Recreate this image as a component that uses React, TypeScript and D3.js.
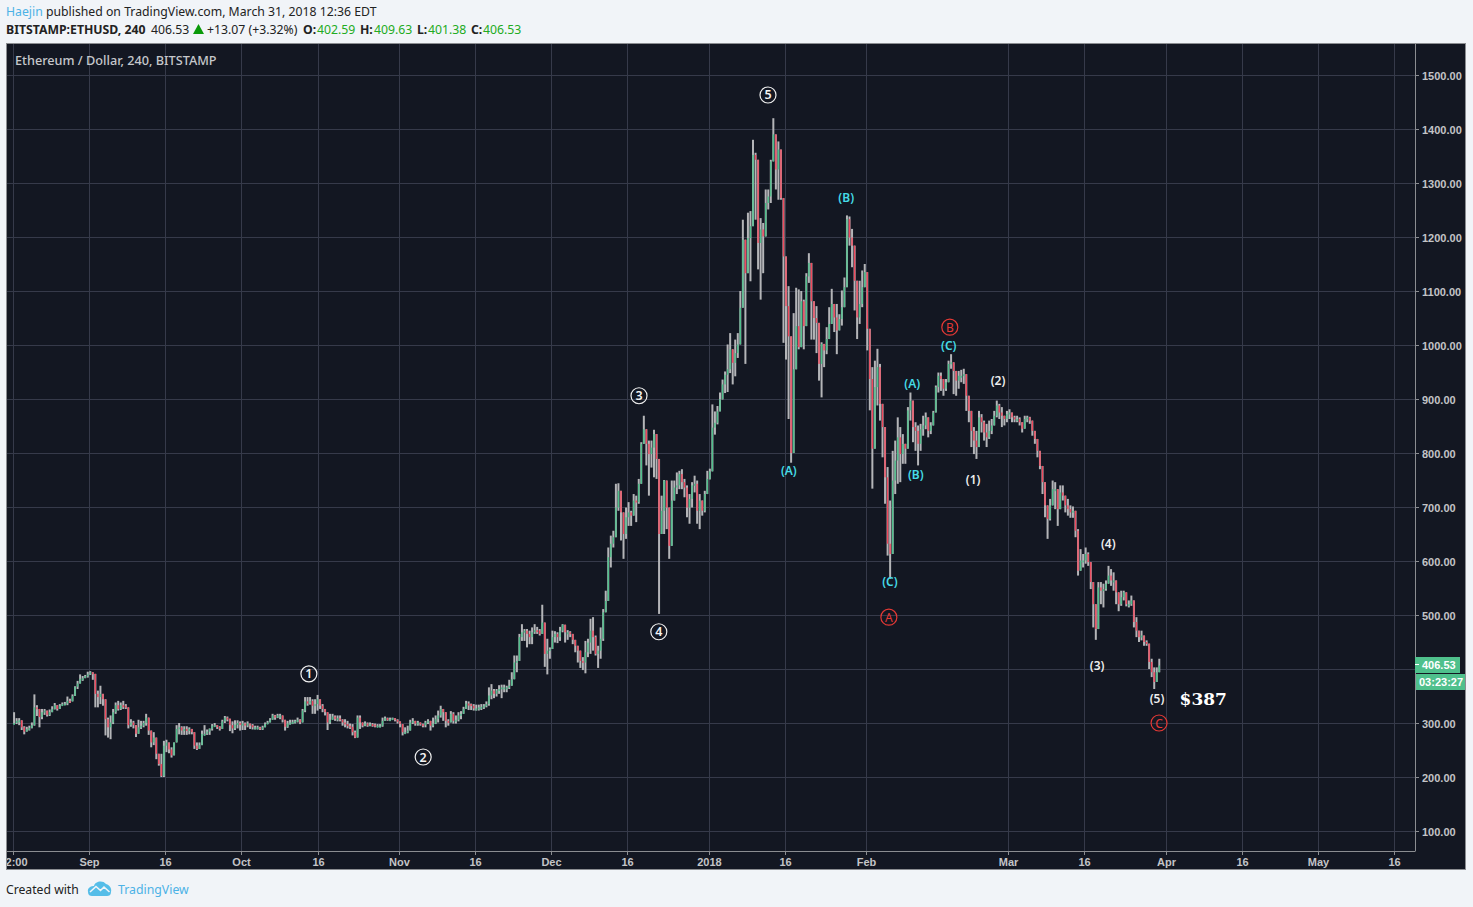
import React from "react";
import * as d3 from "d3";

// ---- 12-hour style price readings, one set of arrays per calendar month ----
const augClose = [300,304,305,292,284,289,291,296,329,326,311,320,323,315,320,326,333,326,332,335,336,341,340,350,367,373,382,383,387,390];
const augHigh = [320,309,309,300,294,293,295,301,353,333,323,326,326,320,325,331,337,333,335,338,339,349,345,353,368,378,390,387,389,395];
const augLow = [298,298,296,287,279,285,286,290,295,313,292,307,315,312,313,321,325,323,327,332,333,333,337,344,350,363,375,378,383,384];

const sepClose = [394,391,354,348,354,344,307,292,301,320,333,326,333,332,329,296,301,296,280,292,295,300,310,286,264,273,243,224,202,258,264,251,240,264,289,292,286,289,286,289,283,258,252,259,280,280,284,289,295,296,293,289,303,310,308,296,290,297,300,298];
const sepHigh = [396,394,366,360,369,352,320,310,314,326,338,341,338,341,335,315,307,304,292,306,304,304,317,301,280,283,267,243,243,267,269,258,255,264,296,300,294,294,294,292,289,273,264,264,286,296,288,290,298,300,296,294,306,313,312,308,303,305,305,303];
const sepLow = [389,380,329,329,335,332,277,273,270,298,317,323,324,326,326,290,293,290,274,284,289,292,295,278,255,259,233,221,200,200,246,244,236,252,279,279,278,278,278,279,279,252,250,253,268,277,278,278,286,293,289,286,295,300,303,285,281,287,290,286];

const octClose = [299,298,299,296,292,292,292,290,292,298,301,306,314,310,314,314,306,293,299,301,302,304,306,301,323,340,336,341,332,335,344,332,326,320,301,306,312,307,309,306,301,298,295,293,283,273,310,301,295,299,297,298,297,295,295,295,304,309,307,307,309,306,303];
const octHigh = [304,301,303,299,298,295,295,293,295,301,304,309,317,315,317,317,310,303,304,306,306,306,310,307,326,348,348,348,344,344,352,344,335,326,317,317,317,314,314,314,307,307,304,299,298,286,314,314,301,303,301,301,300,299,298,298,310,312,310,310,310,309,307];
const octLow = [287,287,292,289,288,288,288,287,287,293,298,301,307,306,309,307,301,286,291,297,298,299,301,298,301,320,332,334,317,317,323,326,320,314,287,298,306,304,303,303,295,292,290,289,277,272,277,289,292,294,293,294,293,292,292,292,293,304,304,304,306,303,299];

const novClose = [298,283,283,286,301,304,299,301,298,296,301,304,295,299,307,314,326,320,304,301,317,304,306,314,317,326,336,335,332,327,327,329,330,332,335,351,360,354,360,363,366,366,366,369,381,412,415,459,468,471,465,459,468,472,471,465,486,428,434,437];
const novHigh = [303,295,292,295,306,309,304,304,301,299,304,307,304,310,314,323,332,326,317,307,322,320,314,320,322,330,341,340,336,335,334,334,335,335,340,366,372,363,363,370,371,371,369,380,394,425,425,465,483,474,474,471,477,483,478,474,519,483,456,440];
const novLow = [292,277,280,281,292,298,295,295,295,292,292,298,286,292,298,301,310,304,292,295,301,299,299,303,307,317,326,324,324,323,323,323,324,326,329,332,344,346,349,354,346,357,357,363,375,391,394,419,452,452,440,446,446,465,465,462,465,404,390,419];

const decClose = [459,465,459,471,482,468,468,465,454,443,434,415,412,431,449,471,459,428,434,456,505,526,607,632,644,699,730,690,650,681,690,684,712,709,743,817,844,817,798,810,835,789,650,693,749,699,628,712,736,740,761,746,736,699,715,740,743,693,712,693,724,752];
const decHigh = [471,470,468,478,483,474,472,470,462,452,440,428,422,452,456,493,496,462,443,477,511,545,625,647,656,743,744,712,675,699,709,693,724,721,752,820,869,835,823,823,843,792,736,721,750,733,687,749,749,764,767,770,752,740,724,746,758,749,724,712,730,767];
const decLow = [437,449,448,452,468,449,454,459,446,431,412,402,398,392,422,428,434,425,402,419,452,505,585,588,625,650,693,638,604,641,665,665,696,672,706,749,817,777,721,773,755,752,502,653,650,659,604,628,712,724,733,733,718,681,669,699,727,669,659,684,690,730];

const janClose = [766,847,856,877,900,927,945,955,992,967,985,1001,1069,1195,1133,1198,1220,1352,1343,1189,1214,1201,1263,1275,1340,1390,1325,1362,1272,1164,1072,1016,800,955,1035,996,1081,1035,1127,1152,1081,1050,1041,965,1002,990,1011,1039,1076,1051,1027,1048,1070,1107,1233,1199,1184,1119,1051,1076,1107,1135];
const janHigh = [771,890,877,887,912,936,951,1001,1022,982,1010,1022,1100,1232,1170,1245,1248,1380,1356,1334,1235,1226,1288,1288,1343,1420,1349,1377,1322,1245,1164,1109,1016,1059,1106,1103,1100,1084,1133,1170,1127,1078,1072,1008,1005,1002,1033,1070,1104,1076,1076,1057,1101,1125,1240,1238,1215,1172,1107,1119,1138,1150];
const janLow = [751,813,834,853,880,899,911,913,948,927,942,976,1004,1103,965,1140,1118,1220,1232,1140,1084,1133,1220,1251,1263,1356,1288,1269,1269,1004,973,863,782,911,955,992,1022,992,1072,1115,1010,1010,985,934,903,959,983,1014,1039,1024,983,1027,1036,1082,1132,1184,1144,1064,1011,1039,1070,1110];

const febClose = [1030,937,808,922,959,891,848,755,632,613,749,786,829,798,817,808,879,897,848,841,817,844,851,866,841,851,875,922,943,937,919,931,965,968,952,934,943,943,946,906,878,841,823,811,866,857,838,829,841,851,869,888,875,869,863,872];
const febHigh = [1132,1020,959,971,993,965,885,835,774,712,804,823,866,848,835,817,885,912,885,857,851,854,869,875,860,857,878,925,949,949,934,937,971,983,956,946,952,954,956,928,903,848,848,841,878,872,860,854,860,863,878,897,891,885,869,878];
const febLow = [990,879,734,842,888,860,792,706,610,567,613,724,743,746,780,780,835,860,820,804,777,804,832,844,829,835,857,897,912,915,906,915,946,956,909,906,919,931,928,878,857,811,798,789,811,838,823,811,826,835,851,866,863,848,851,857];

const marClose = [875,866,863,863,857,845,863,866,860,841,826,804,776,746,703,678,703,733,733,696,727,721,703,696,690,693,656,582,601,601,613,598,561,520,474,551,545,548,558,573,564,564,542,520,533,542,520,520,527,487,471,459,462,450,447,413,394,376,394,406.53];
const marHigh = [881,872,869,869,866,857,869,869,867,857,841,826,798,767,715,703,715,749,746,733,740,740,712,715,703,701,693,659,622,613,625,616,598,558,520,561,561,558,564,591,585,579,551,533,545,545,542,527,536,524,496,471,471,462,453,447,419,403,403,419];
const marLow = [863,857,857,857,851,838,851,857,854,832,817,792,770,724,681,641,675,706,696,665,699,712,690,684,680,680,644,573,585,588,595,591,548,477,454,514,520,514,545,558,554,545,520,507,517,527,516,514,517,477,459,450,453,443,443,400,385,363,379,397];

const monthSpans: [string, string, number[], number[], number[]][] = [
  ["2017-08-17T00:00Z", "2017-09-01T00:00Z", augClose, augHigh, augLow],
  ["2017-09-01T00:00Z", "2017-10-01T00:00Z", sepClose, sepHigh, sepLow],
  ["2017-10-01T00:00Z", "2017-11-01T00:00Z", octClose, octHigh, octLow],
  ["2017-11-01T00:00Z", "2017-12-01T00:00Z", novClose, novHigh, novLow],
  ["2017-12-01T00:00Z", "2018-01-01T00:00Z", decClose, decHigh, decLow],
  ["2018-01-01T00:00Z", "2018-02-01T00:00Z", janClose, janHigh, janLow],
  ["2018-02-01T00:00Z", "2018-03-01T00:00Z", febClose, febHigh, febLow],
  ["2018-03-01T00:00Z", "2018-03-31T00:00Z", marClose, marHigh, marLow],
];

const priceTicks = [100,200,300,400,500,600,700,800,900,1000,1100,1200,1300,1400,1500];
const timeTicks: [string, string][] = [
  ["2017-08-17T00:00Z","12:00"],["2017-09-01T00:00Z","Sep"],["2017-09-16T00:00Z","16"],["2017-10-01T00:00Z","Oct"],
  ["2017-10-16T00:00Z","16"],["2017-11-01T00:00Z","Nov"],["2017-11-16T00:00Z","16"],["2017-12-01T00:00Z","Dec"],
  ["2017-12-16T00:00Z","16"],["2018-01-01T00:00Z","2018"],["2018-01-16T00:00Z","16"],["2018-02-01T00:00Z","Feb"],
  ["2018-03-01T00:00Z","Mar"],["2018-03-16T00:00Z","16"],["2018-04-01T00:00Z","Apr"],
  ["2018-04-16T00:00Z","16"],["2018-05-01T00:00Z","May"],["2018-05-16T00:00Z","16"],
];

// wave annotations: text, days after 1 Sep 2017, price
const whiteCircled: [string, number, number][] = [["1",43.3,391],["2",65.8,237],["3",108.3,906],["4",112.2,469],["5",133.7,1463]];
const redCircled: [string, number, number][] = [["A",157.5,496],["B",169.5,1033],["C",210.7,300]];
const cyanLabels: [string, number, number][] = [["(A)",137.8,767],["(B)",149.1,1272],["(C)",157.7,561],["(A)",162.1,928],["(B)",162.8,759],["(C)",169.3,998]];
const whiteLabels: [string, number, number][] = [["(1)",174.1,750],["(2)",179,933],["(3)",198.5,406],["(4)",200.7,631],["(5)",210.3,344]];
const targetLabel: [string, number, number] = ["$387",219.4,344];
const lastPrice = 406.53;

const UP = "#4fc08c", DOWN = "#f04a5e", WICK = "#b4b5b8", GRID = "#363a4a", AXIS = "#8b8d91", TICKTXT = "#c3c4c7";

const x = d3.scaleUtc().domain([new Date("2017-09-01T00:00Z"), new Date("2018-05-01T00:00Z")]).range([89, 1318]);
const y = d3.scaleLinear().domain([100, 1500]).range([831, 75]);
const dayX = (d: number) => x(new Date(Date.UTC(2017, 8, 1) + d * 864e5));

type Candle = { t: Date; o: number; c: number; h: number; l: number };
const candles: Candle[] = [];
let prev = 300;
monthSpans.forEach(([s, e, cl, hi, lo]) => {
  const t0 = +new Date(s), t1 = +new Date(e);
  cl.forEach((c, i) => {
    const t = new Date(t0 + ((t1 - t0) * (i + 0.5)) / cl.length);
    candles.push({ t, o: prev, c, h: Math.max(hi[i], c, prev), l: Math.min(lo[i], c, prev) });
    prev = c;
  });
});

const SANS = "'Noto Sans', sans-serif";
const TICKF = "'Liberation Sans', Arial, sans-serif";

export default function App() {
  return (
    <svg width={1473} height={907} style={{ position: "absolute", left: 0, top: 0, background: "#f1f4f8" }}>
      <defs>
        <clipPath id="panel"><rect x={7} y={44} width={1458} height={825} /></clipPath>
        <clipPath id="plot"><rect x={7} y={44} width={1408} height={807} /></clipPath>
      </defs>

      {/* header */}
      <text x={6} y={16} fontFamily={SANS} fontSize={12.25} fill="#222">
        <tspan fill="#4cb2e6">Haejin</tspan> published on TradingView.com, March 31, 2018 12:36 EDT
      </text>
      <g fontFamily={SANS} fontSize={12.25}>
        <text x={6} y={34} fontWeight={700} fill="#222">BITSTAMP:ETHUSD, 240</text>
        <text x={151} y={34} fill="#222">406.53</text>
        <path d="M198.5 24 L204 34 L193 34 Z" fill="#0a9a0a" />
        <text x={207} y={34} fill="#222">+13.07 (+3.32%)</text>
        <text x={303} y={34} fontWeight={700} fill="#222">O:</text>
        <text x={317} y={34} fill="#22ab22">402.59</text>
        <text x={360} y={34} fontWeight={700} fill="#222">H:</text>
        <text x={374} y={34} fill="#22ab22">409.63</text>
        <text x={417} y={34} fontWeight={700} fill="#222">L:</text>
        <text x={428} y={34} fill="#22ab22">401.38</text>
        <text x={471} y={34} fontWeight={700} fill="#222">C:</text>
        <text x={483} y={34} fill="#22ab22">406.53</text>
      </g>

      {/* panel */}
      <rect x={6.5} y={43.5} width={1459} height={826} fill="#131722" stroke={AXIS} strokeWidth={1} />

      <g clipPath="url(#plot)">
        {priceTicks.map((p) => (
          <line key={p} x1={7} x2={1415} y1={Math.round(y(p)) + 0.5} y2={Math.round(y(p)) + 0.5} stroke={GRID} />
        ))}
        {timeTicks.map(([d]) => {
          const px = Math.round(x(new Date(d))) + 0.5;
          return <line key={d} x1={px} x2={px} y1={44} y2={851} stroke={GRID} />;
        })}
        {candles.map((k, i) => (
          <line key={"w" + i} x1={x(k.t)} x2={x(k.t)} y1={y(k.h)} y2={y(k.l)} stroke={WICK} strokeWidth={2} />
        ))}
        {candles.map((k, i) => {
          const top = y(Math.max(k.o, k.c));
          const h = Math.max(2, y(Math.min(k.o, k.c)) - top);
          return <rect key={"b" + i} x={x(k.t) - 0.7} y={top} width={1.4} height={h} fill={k.c >= k.o ? UP : DOWN} />;
        })}
      </g>

      <text x={15} y={65} fontFamily={SANS} fontSize={12.7} fontWeight={500} fill="#c6c8cc">Ethereum / Dollar, 240, BITSTAMP</text>

      {/* axes */}
      <line x1={1415.5} x2={1415.5} y1={44} y2={851} stroke={AXIS} />
      <line x1={7} x2={1415.5} y1={851.5} y2={851.5} stroke={AXIS} />
      <g fontFamily={TICKF} fontSize={11} fontWeight={700} fill={TICKTXT}>
        {priceTicks.map((p) => (
          <g key={p}>
            <line x1={1415} x2={1419} y1={Math.round(y(p)) + 0.5} y2={Math.round(y(p)) + 0.5} stroke={AXIS} />
            {Math.abs(p - lastPrice) > 20 && <text x={1422} y={y(p) + 4.5}>{p.toFixed(2)}</text>}
          </g>
        ))}
      </g>
      <g clipPath="url(#panel)" fontFamily={TICKF} fontSize={11} fontWeight={700} fill={TICKTXT} textAnchor="middle">
        {timeTicks.map(([d, lab]) => {
          const px = Math.round(x(new Date(d))) + 0.5;
          return (
            <g key={d}>
              <line x1={px} x2={px} y1={851} y2={855} stroke={AXIS} />
              <text x={px} y={866}>{lab}</text>
            </g>
          );
        })}
      </g>

      {/* last price */}
      <rect x={1415} y={657} width={45} height={16} fill={UP} />
      <line x1={1415} x2={1419} y1={664.5} y2={664.5} stroke="#fff" />
      <text x={1422} y={669} fontFamily={TICKF} fontSize={11} fontWeight={700} fill="#fff">{lastPrice.toFixed(2)}</text>
      <rect x={1416} y={674} width={49} height={16} fill={UP} />
      <text x={1419} y={686} fontFamily={TICKF} fontSize={11} fontWeight={700} fill="#fff">03:23:27</text>

      {/* wave labels */}
      <g fontFamily={SANS} textAnchor="middle">
        {whiteCircled.map(([t, d, p]) => (
          <g key={t}>
            <circle cx={dayX(d)} cy={y(p)} r={8} fill="none" stroke="#f0f0f0" strokeWidth={1.2} />
            <text x={dayX(d)} y={y(p) + 4.5} fontSize={12.5} fontWeight={600} fill="#f2f2f2">{t}</text>
          </g>
        ))}
        {redCircled.map(([t, d, p]) => (
          <g key={t}>
            <circle cx={dayX(d)} cy={y(p)} r={8} fill="none" stroke="#e53935" strokeWidth={1.2} />
            <text x={dayX(d)} y={y(p) + 4.5} fontSize={12} fill="#e53935">{t}</text>
          </g>
        ))}
        {cyanLabels.map(([t, d, p], i) => (
          <text key={i} x={dayX(d)} y={y(p) + 4} fontSize={12} fontWeight={600} fill="#45dbe6">{t}</text>
        ))}
        {whiteLabels.map(([t, d, p], i) => (
          <text key={i} x={dayX(d)} y={y(p) + 4} fontSize={12} fontWeight={600} fill="#eeeeee">{t}</text>
        ))}
      </g>
      <text x={dayX(targetLabel[1])} y={y(targetLabel[2]) + 6} textAnchor="middle" fontFamily="'DejaVu Serif', 'Liberation Serif', serif" fontSize={17} fontWeight={700} fill="#fff">{targetLabel[0]}</text>

      {/* footer */}
      <text x={6} y={894} fontFamily={SANS} fontSize={12.2} fill="#222">Created with</text>
      <path d="M88 892 C87 887 92 886 94 886 C95 881 103 880 106 884 C110 885 112 889 111 892 C111 895 109 896 107 896 L92 896 C90 896 88 895 88 892 Z" fill="#55bde8" />
      <path d="M90 892 L96 886.5 L100.5 890.5 L104 887 L109.5 892" fill="none" stroke="#f1f4f8" strokeWidth={1.6} />
      <text x={118} y={894} fontFamily={SANS} fontSize={12.3} fill="#4cb2e6">TradingView</text>
    </svg>
  );
}
